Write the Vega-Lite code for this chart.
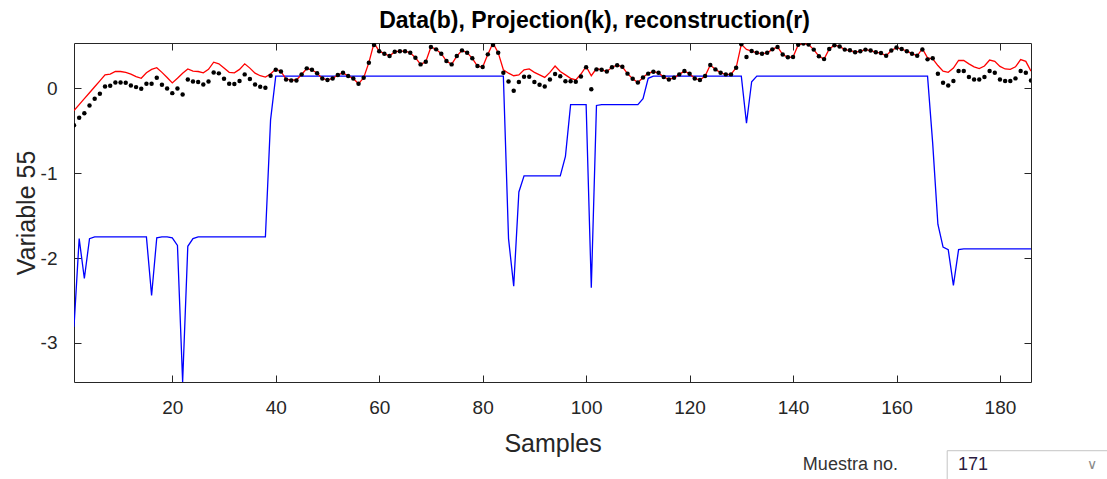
{
  "$schema": "https://vega.github.io/schema/vega-lite/v6.json",
  "width": 957,
  "height": 339,
  "autosize": "none",
  "padding": {"left": 74, "top": 43, "right": 76, "bottom": 97},
  "background": "white",
  "config": {
    "font": "Liberation Sans",
    "view": {"stroke": "#262626", "strokeWidth": 1}
  },
  "title": {"text": "Data(b), Projection(k), reconstruction(r)", "fontSize": 23, "fontWeight": "bold", "color": "#000000", "font": "Liberation Sans", "offset": 10, "anchor": "middle", "dx": 42},
  "data": {"values": [
    {"s":1,"b":-0.433,"p":-2.81,"r":-0.26},
    {"s":2,"b":-0.346,"p":-1.77,"r":-0.19},
    {"s":3,"b":-0.291,"p":-2.24,"r":-0.12},
    {"s":4,"b":-0.2,"p":-1.77,"r":-0.05},
    {"s":5,"b":-0.122,"p":-1.75,"r":0.02},
    {"s":6,"b":-0.063,"p":-1.75,"r":0.09},
    {"s":7,"b":0.024,"p":-1.75,"r":0.16},
    {"s":8,"b":0.032,"p":-1.75,"r":0.17},
    {"s":9,"b":0.071,"p":-1.75,"r":0.2},
    {"s":10,"b":0.071,"p":-1.75,"r":0.2},
    {"s":11,"b":0.067,"p":-1.75,"r":0.19},
    {"s":12,"b":0.036,"p":-1.75,"r":0.17},
    {"s":13,"b":0.016,"p":-1.75,"r":0.14},
    {"s":14,"b":-0.003,"p":-1.75,"r":0.12},
    {"s":15,"b":0.056,"p":-1.75,"r":0.185},
    {"s":16,"b":0.056,"p":-2.44,"r":0.225},
    {"s":17,"b":0.126,"p":-1.76,"r":0.245},
    {"s":18,"b":0.044,"p":-1.75,"r":0.19},
    {"s":19,"b":0.0,"p":-1.75,"r":0.13},
    {"s":20,"b":-0.055,"p":-1.76,"r":0.065},
    {"s":21,"b":0.0,"p":-1.85,"r":0.12},
    {"s":22,"b":-0.07,"p":-3.46,"r":0.18},
    {"s":23,"b":0.107,"p":-1.86,"r":0.23},
    {"s":24,"b":0.083,"p":-1.77,"r":0.205},
    {"s":25,"b":0.075,"p":-1.75,"r":0.2},
    {"s":26,"b":0.048,"p":-1.75,"r":0.185},
    {"s":27,"b":0.083,"p":-1.75,"r":0.225},
    {"s":28,"b":0.189,"p":-1.75,"r":0.31},
    {"s":29,"b":0.178,"p":-1.75,"r":0.29},
    {"s":30,"b":0.115,"p":-1.75,"r":0.24},
    {"s":31,"b":0.056,"p":-1.75,"r":0.19},
    {"s":32,"b":0.052,"p":-1.75,"r":0.185},
    {"s":33,"b":0.087,"p":-1.75,"r":0.225},
    {"s":34,"b":0.166,"p":-1.75,"r":0.29},
    {"s":35,"b":0.111,"p":-1.75,"r":0.24},
    {"s":36,"b":0.048,"p":-1.75,"r":0.18},
    {"s":37,"b":0.02,"p":-1.75,"r":0.15},
    {"s":38,"b":0.008,"p":-1.75,"r":0.135},
    {"s":39,"b":0.15,"p":-0.37,"r":0.17},
    {"s":40,"b":0.22,"p":0.145,"r":0.23},
    {"s":41,"b":0.2,"p":0.145,"r":0.2},
    {"s":42,"b":0.107,"p":0.145,"r":0.11},
    {"s":43,"b":0.095,"p":0.145,"r":0.1},
    {"s":44,"b":0.095,"p":0.145,"r":0.1},
    {"s":45,"b":0.166,"p":0.145,"r":0.165},
    {"s":46,"b":0.237,"p":0.145,"r":0.235},
    {"s":47,"b":0.22,"p":0.145,"r":0.22},
    {"s":48,"b":0.18,"p":0.145,"r":0.18},
    {"s":49,"b":0.118,"p":0.145,"r":0.118},
    {"s":50,"b":0.099,"p":0.145,"r":0.099},
    {"s":51,"b":0.118,"p":0.145,"r":0.118},
    {"s":52,"b":0.158,"p":0.145,"r":0.158},
    {"s":53,"b":0.185,"p":0.145,"r":0.185},
    {"s":54,"b":0.146,"p":0.145,"r":0.146},
    {"s":55,"b":0.118,"p":0.145,"r":0.118},
    {"s":56,"b":0.055,"p":0.145,"r":0.055},
    {"s":57,"b":0.126,"p":0.145,"r":0.126},
    {"s":58,"b":0.304,"p":0.145,"r":0.304},
    {"s":59,"b":0.512,"p":0.145,"r":0.535},
    {"s":60,"b":0.44,"p":0.145,"r":0.44},
    {"s":61,"b":0.41,"p":0.145,"r":0.41},
    {"s":62,"b":0.382,"p":0.145,"r":0.382},
    {"s":63,"b":0.433,"p":0.145,"r":0.433},
    {"s":64,"b":0.44,"p":0.145,"r":0.44},
    {"s":65,"b":0.44,"p":0.145,"r":0.44},
    {"s":66,"b":0.42,"p":0.145,"r":0.42},
    {"s":67,"b":0.363,"p":0.145,"r":0.363},
    {"s":68,"b":0.284,"p":0.145,"r":0.284},
    {"s":69,"b":0.315,"p":0.145,"r":0.315},
    {"s":70,"b":0.489,"p":0.145,"r":0.489},
    {"s":71,"b":0.461,"p":0.145,"r":0.461},
    {"s":72,"b":0.41,"p":0.145,"r":0.41},
    {"s":73,"b":0.323,"p":0.145,"r":0.323},
    {"s":74,"b":0.284,"p":0.145,"r":0.284},
    {"s":75,"b":0.382,"p":0.145,"r":0.382},
    {"s":76,"b":0.449,"p":0.145,"r":0.449},
    {"s":77,"b":0.422,"p":0.145,"r":0.422},
    {"s":78,"b":0.355,"p":0.145,"r":0.355},
    {"s":79,"b":0.264,"p":0.145,"r":0.264},
    {"s":80,"b":0.252,"p":0.145,"r":0.252},
    {"s":81,"b":0.402,"p":0.145,"r":0.402},
    {"s":82,"b":0.512,"p":0.145,"r":0.535},
    {"s":83,"b":0.422,"p":0.145,"r":0.422},
    {"s":84,"b":0.185,"p":0.145,"r":0.22},
    {"s":85,"b":0.083,"p":-1.77,"r":0.18},
    {"s":86,"b":-0.027,"p":-2.33,"r":0.15},
    {"s":87,"b":0.075,"p":-1.22,"r":0.16},
    {"s":88,"b":0.138,"p":-1.03,"r":0.22},
    {"s":89,"b":0.138,"p":-1.03,"r":0.23},
    {"s":90,"b":0.077,"p":-1.03,"r":0.19},
    {"s":91,"b":0.043,"p":-1.03,"r":0.16},
    {"s":92,"b":0.024,"p":-1.03,"r":0.13},
    {"s":93,"b":0.105,"p":-1.03,"r":0.19},
    {"s":94,"b":0.17,"p":-1.03,"r":0.265},
    {"s":95,"b":0.145,"p":-1.03,"r":0.2},
    {"s":96,"b":0.085,"p":-0.8,"r":0.16},
    {"s":97,"b":0.085,"p":-0.19,"r":0.12},
    {"s":98,"b":0.08,"p":-0.19,"r":0.1},
    {"s":99,"b":0.14,"p":-0.19,"r":0.17},
    {"s":100,"b":0.25,"p":-0.19,"r":0.26},
    {"s":101,"b":-0.01,"p":-2.35,"r":0.15},
    {"s":102,"b":0.225,"p":-0.2,"r":0.235},
    {"s":103,"b":0.22,"p":-0.19,"r":0.22},
    {"s":104,"b":0.2,"p":-0.19,"r":0.2},
    {"s":105,"b":0.25,"p":-0.19,"r":0.25},
    {"s":106,"b":0.275,"p":-0.19,"r":0.275},
    {"s":107,"b":0.255,"p":-0.19,"r":0.255},
    {"s":108,"b":0.175,"p":-0.19,"r":0.175},
    {"s":109,"b":0.115,"p":-0.19,"r":0.115},
    {"s":110,"b":0.07,"p":-0.19,"r":0.07},
    {"s":111,"b":0.13,"p":-0.12,"r":0.13},
    {"s":112,"b":0.175,"p":0.12,"r":0.18},
    {"s":113,"b":0.197,"p":0.145,"r":0.197},
    {"s":114,"b":0.185,"p":0.145,"r":0.185},
    {"s":115,"b":0.134,"p":0.145,"r":0.134},
    {"s":116,"b":0.107,"p":0.145,"r":0.107},
    {"s":117,"b":0.126,"p":0.145,"r":0.126},
    {"s":118,"b":0.166,"p":0.145,"r":0.166},
    {"s":119,"b":0.205,"p":0.145,"r":0.205},
    {"s":120,"b":0.174,"p":0.145,"r":0.174},
    {"s":121,"b":0.118,"p":0.145,"r":0.118},
    {"s":122,"b":0.099,"p":0.145,"r":0.099},
    {"s":123,"b":0.146,"p":0.145,"r":0.146},
    {"s":124,"b":0.276,"p":0.145,"r":0.276},
    {"s":125,"b":0.225,"p":0.145,"r":0.225},
    {"s":126,"b":0.185,"p":0.145,"r":0.185},
    {"s":127,"b":0.166,"p":0.145,"r":0.166},
    {"s":128,"b":0.166,"p":0.145,"r":0.166},
    {"s":129,"b":0.244,"p":0.145,"r":0.244},
    {"s":130,"b":0.52,"p":0.145,"r":0.52},
    {"s":131,"b":0.37,"p":-0.41,"r":0.46},
    {"s":132,"b":0.441,"p":0.08,"r":0.441},
    {"s":133,"b":0.42,"p":0.145,"r":0.42},
    {"s":134,"b":0.41,"p":0.145,"r":0.41},
    {"s":135,"b":0.42,"p":0.145,"r":0.42},
    {"s":136,"b":0.461,"p":0.145,"r":0.461},
    {"s":137,"b":0.49,"p":0.145,"r":0.49},
    {"s":138,"b":0.4,"p":0.145,"r":0.4},
    {"s":139,"b":0.368,"p":0.145,"r":0.368},
    {"s":140,"b":0.37,"p":0.145,"r":0.37},
    {"s":141,"b":0.514,"p":0.145,"r":0.514},
    {"s":142,"b":0.53,"p":0.145,"r":0.53},
    {"s":143,"b":0.518,"p":0.145,"r":0.518},
    {"s":144,"b":0.458,"p":0.145,"r":0.458},
    {"s":145,"b":0.38,"p":0.145,"r":0.38},
    {"s":146,"b":0.346,"p":0.145,"r":0.346},
    {"s":147,"b":0.465,"p":0.145,"r":0.465},
    {"s":148,"b":0.51,"p":0.145,"r":0.51},
    {"s":149,"b":0.495,"p":0.145,"r":0.495},
    {"s":150,"b":0.458,"p":0.145,"r":0.458},
    {"s":151,"b":0.45,"p":0.145,"r":0.45},
    {"s":152,"b":0.428,"p":0.145,"r":0.428},
    {"s":153,"b":0.44,"p":0.145,"r":0.44},
    {"s":154,"b":0.458,"p":0.145,"r":0.458},
    {"s":155,"b":0.447,"p":0.145,"r":0.447},
    {"s":156,"b":0.428,"p":0.145,"r":0.428},
    {"s":157,"b":0.417,"p":0.145,"r":0.417},
    {"s":158,"b":0.385,"p":0.145,"r":0.385},
    {"s":159,"b":0.447,"p":0.145,"r":0.447},
    {"s":160,"b":0.482,"p":0.145,"r":0.482},
    {"s":161,"b":0.465,"p":0.145,"r":0.465},
    {"s":162,"b":0.44,"p":0.145,"r":0.44},
    {"s":163,"b":0.41,"p":0.145,"r":0.41},
    {"s":164,"b":0.385,"p":0.145,"r":0.385},
    {"s":165,"b":0.46,"p":0.145,"r":0.47},
    {"s":166,"b":0.343,"p":0.145,"r":0.36},
    {"s":167,"b":0.355,"p":-0.65,"r":0.35},
    {"s":168,"b":0.174,"p":-1.6,"r":0.27},
    {"s":169,"b":0.067,"p":-1.87,"r":0.205},
    {"s":170,"b":0.036,"p":-1.9,"r":0.19},
    {"s":171,"b":0.087,"p":-2.32,"r":0.24},
    {"s":172,"b":0.205,"p":-1.9,"r":0.33},
    {"s":173,"b":0.205,"p":-1.89,"r":0.33},
    {"s":174,"b":0.134,"p":-1.89,"r":0.29},
    {"s":175,"b":0.107,"p":-1.89,"r":0.255},
    {"s":176,"b":0.107,"p":-1.89,"r":0.235},
    {"s":177,"b":0.134,"p":-1.89,"r":0.265},
    {"s":178,"b":0.205,"p":-1.89,"r":0.335},
    {"s":179,"b":0.185,"p":-1.89,"r":0.32},
    {"s":180,"b":0.107,"p":-1.89,"r":0.26},
    {"s":181,"b":0.087,"p":-1.89,"r":0.23},
    {"s":182,"b":0.087,"p":-1.89,"r":0.225},
    {"s":183,"b":0.119,"p":-1.89,"r":0.255},
    {"s":184,"b":0.205,"p":-1.89,"r":0.34},
    {"s":185,"b":0.185,"p":-1.89,"r":0.32},
    {"s":186,"b":0.095,"p":-1.89,"r":0.205}
  ]},
  "layer": [
    {
      "mark": {"type": "line", "color": "#0000ff", "strokeWidth": 1.3, "clip": true},
      "encoding": {
        "x": {"field": "s", "type": "quantitative",
              "scale": {"domain": [1, 186], "nice": false, "zero": false},
              "axis": {"orient": "bottom", "values": [20, 40, 60, 80, 100, 120, 140, 160, 180], "labelExpr": "'' + datum.value",
                       "grid": false, "domain": false, "tickSize": -7, "tickColor": "#262626", "labelPadding": 23,
                       "labelFontSize": 19, "labelColor": "#262626", "labelFont": "Liberation Sans",
                       "title": "Samples", "titleFontSize": 25, "titleFontWeight": "normal", "titleColor": "#262626",
                       "titleFont": "Liberation Sans", "titlePadding": 14}},
        "y": {"field": "p", "type": "quantitative",
              "scale": {"domain": [-3.46, 0.536], "nice": false, "zero": false},
              "axis": {"orient": "left", "values": [-3, -2, -1, 0], "labelExpr": "'' + datum.value",
                       "grid": false, "domain": false, "tickSize": -7, "tickColor": "#262626", "labelPadding": 24,
                       "labelFontSize": 19, "labelColor": "#262626", "labelFont": "Liberation Sans",
                       "title": "Variable 55", "titleFontSize": 25, "titleFontWeight": "normal", "titleColor": "#262626",
                       "titleFont": "Liberation Sans", "titlePadding": 1}}
      }
    },
    {
      "mark": {"type": "line", "color": "#ff0000", "strokeWidth": 1.3, "clip": true},
      "encoding": {
        "x": {"field": "s", "type": "quantitative",
              "scale": {"domain": [1, 186], "nice": false, "zero": false},
              "axis": {"orient": "top", "values": [20, 40, 60, 80, 100, 120, 140, 160, 180],
                       "grid": false, "domain": false, "labels": false, "title": null, "tickSize": -7, "tickColor": "#262626"}},
        "y": {"field": "r", "type": "quantitative",
              "scale": {"domain": [-3.46, 0.536], "nice": false, "zero": false},
              "axis": {"orient": "right", "values": [-3, -2, -1, 0],
                       "grid": false, "domain": false, "labels": false, "title": null, "tickSize": -7, "tickColor": "#262626"}}
      }
    },
    {
      "mark": {"type": "point", "filled": true, "color": "#000000", "size": 20, "opacity": 1, "clip": true},
      "encoding": {
        "x": {"field": "s", "type": "quantitative", "scale": {"domain": [1, 186], "nice": false, "zero": false}, "axis": null},
        "y": {"field": "b", "type": "quantitative", "scale": {"domain": [-3.46, 0.536], "nice": false, "zero": false}, "axis": null}
      }
    },
    {
      "data": {"values": [{}]},
      "mark": {"type": "rect", "fill": "#ffffff", "stroke": "#c4c4c4", "strokeWidth": 1},
      "encoding": {
        "x": {"datum": 169.8, "type": "quantitative", "axis": null},
        "x2": {"datum": 205},
        "y": {"datum": -4.27, "type": "quantitative", "axis": null},
        "y2": {"datum": -4.7}
      }
    },
    {
      "data": {"values": [{"label": "Muestra no."}]},
      "mark": {"type": "text", "align": "left", "baseline": "middle", "fontSize": 18, "color": "#333333", "font": "Liberation Sans"},
      "encoding": {
        "x": {"datum": 141.9, "type": "quantitative", "axis": null},
        "y": {"datum": -4.444, "type": "quantitative", "axis": null},
        "text": {"field": "label"}
      }
    },
    {
      "data": {"values": [{"label": "171"}]},
      "mark": {"type": "text", "align": "left", "baseline": "middle", "fontSize": 18, "color": "#2a1a40", "font": "Liberation Sans"},
      "encoding": {
        "x": {"datum": 171.9, "type": "quantitative", "axis": null},
        "y": {"datum": -4.444, "type": "quantitative", "axis": null},
        "text": {"field": "label"}
      }
    },
    {
      "data": {"values": [{"label": "∨"}]},
      "mark": {"type": "text", "align": "center", "baseline": "middle", "fontSize": 14, "color": "#8a8a8a", "font": "DejaVu Sans"},
      "encoding": {
        "x": {"datum": 197.8, "type": "quantitative", "axis": null},
        "y": {"datum": -4.444, "type": "quantitative", "axis": null},
        "text": {"field": "label"}
      }
    }
  ],
  "resolve": {"axis": {"x": "independent", "y": "independent"}}
}
